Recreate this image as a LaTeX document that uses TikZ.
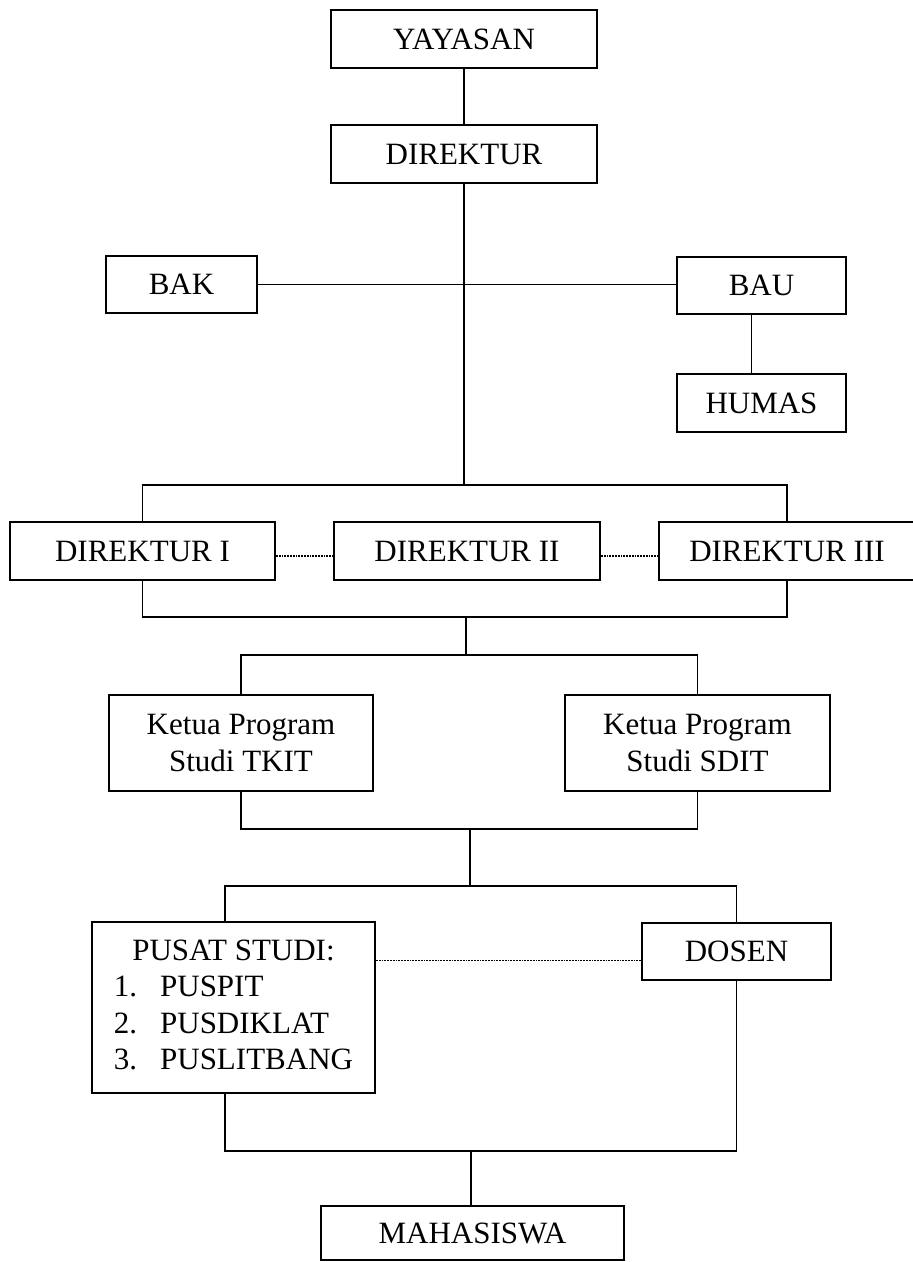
\documentclass[tikz,border=0pt]{standalone}
\usepackage{fontspec}
\setmainfont{Liberation Serif}
\usepackage{tikz}
\usetikzlibrary{calc,positioning}
\tikzstyle{block} = [rectangle, draw, line width=2pt, inner sep=0pt,
    minimum height=58pt, font=\fontsize{31}{36.5}\selectfont]
\tikzstyle{line} = [draw, line width=1.7pt]
\tikzstyle{link} = [draw, line width=1.8pt, densely dotted]

\begin{document}
\begin{tikzpicture}[x=1pt, y=1pt]
        \useasboundingbox (0,0) rectangle (913,-1262);
        % Place nodes
        \node [block, minimum width=266pt] (yayasan) at (464,-39) {YAYASAN};
        \node [block, minimum width=266pt, below=55pt of yayasan] (direktur) {DIREKTUR};
        \node [block, minimum width=151pt, minimum height=57pt] (bak) at (181.5,-284.5) {BAK};
        \node [block, minimum width=169pt, minimum height=57pt] (bau) at (761.5,-285.5) {BAU};
        \node [block, minimum width=169pt, below=58pt of bau] (humas) {HUMAS};
        \node [block, minimum width=266pt] (dir2) at (467,-551) {DIREKTUR II};
        \node [block, minimum width=265pt, left=57pt of dir2] (dir1) {DIREKTUR I};
        \node [block, minimum width=256pt, right=57pt of dir2] (dir3) {DIREKTUR III};
        \node [block, minimum width=264pt, minimum height=96pt, align=center] (tkit) at (241,-743) {Ketua Program\\Studi TKIT};
        \node [block, minimum width=265pt, minimum height=96pt, align=center, right=190pt of tkit] (sdit) {Ketua Program\\Studi SDIT};
        \node [block, minimum width=283pt, minimum height=171pt] (pusat) at (233.5,-1007.5) {%
            \begin{tabular}{@{}l@{\hspace{23pt}}l@{}}
            \multicolumn{2}{@{}c@{}}{PUSAT STUDI:}\\
            1. & PUSPIT\\
            2. & PUSDIKLAT\\
            3. & PUSLITBANG
            \end{tabular}};
        \node [block, minimum width=189pt, minimum height=57pt] (dosen) at (736.5,-951.5) {DOSEN};
        \node [block, minimum width=303pt, minimum height=54pt] (mhs) at (472.5,-1233) {MAHASISWA};
        % Draw edges
        \coordinate (j1) at (464,-485);
        \coordinate (j2) at (466,-617);
        \coordinate (j3) at (466,-655);
        \coordinate (j4) at (470,-829);
        \coordinate (j5) at (470,-886);
        \coordinate (pl) at (225,-886);
        \coordinate (j6) at (471,-1151);
        \coordinate (pb) at (225,-1151);
        \path [line] (yayasan) -- (direktur);
        \path [line] (direktur.south) -- (j1);
        \path [line] (bak.east) -- (bak.east -| bau.west);
        \path [line] ([xshift=-10pt]bau.south) -- ([xshift=-10pt]humas.north);
        \path [line] (dir1.north) |- (j1) -| (dir3.north);
        \path [line] (dir1.south) |- (j2) -| (dir3.south);
        \path [line] (j2) -- (j3);
        \path [line] (tkit.north) |- (j3) -| (sdit.north);
        \path [line] (tkit.south) |- (j4) -| (sdit.south);
        \path [line] (j4) -- (j5);
        \path [line] (pl |- pusat.north) -- (pl) -- (j5) -| (dosen.north);
        \path [line] (pb |- pusat.south) -- (pb) -- (j6) -| (dosen.south);
        \path [line] (j6) -- (j6 |- mhs.north);
        % Dotted links
        \path [link] ([yshift=-5pt]dir1.east) -- ([yshift=-5pt]dir2.west);
        \path [link] ([yshift=-5pt]dir2.east) -- ([yshift=-5pt]dir3.west);
        \coordinate (d) at ([yshift=-9pt]dosen.west);
        \path [link] (d) -- (d -| pusat.east);
\end{tikzpicture}
\end{document}
